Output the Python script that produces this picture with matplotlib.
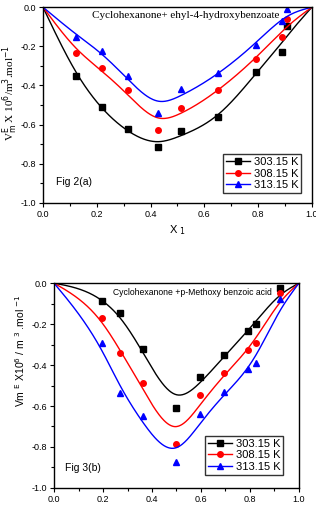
import matplotlib
matplotlib.use('Agg')
import matplotlib.pyplot as plt
import numpy as np
from matplotlib.ticker import MultipleLocator, FormatStrFormatter

temps = ['303.15 K', '308.15 K', '313.15 K']
colors = ['black', 'red', 'blue']
markers = ['s', 'o', '^']

# Fig 2(a): Cyclohexanone + ethyl-4-hydroxybenzoate
x_a = [0.124, 0.219, 0.318, 0.429, 0.512, 0.652, 0.791, 0.889, 0.908]
ve_a = [
    [-0.350, -0.512, -0.625, -0.713, -0.633, -0.563, -0.329, -0.229, -0.096],
    [-0.234, -0.312, -0.423, -0.626, -0.514, -0.421, -0.263, -0.150, -0.061],
    [-0.150, -0.224, -0.353, -0.539, -0.420, -0.338, -0.195, -0.072, -0.009],
]

# Fig 3(b): Cyclohexanone + p-Methoxy benzoic acid
x_b = [0.196, 0.269, 0.364, 0.497, 0.596, 0.692, 0.794, 0.824, 0.924]
ve_b = [
    [-0.088, -0.148, -0.322, -0.611, -0.459, -0.351, -0.234, -0.198, -0.026],
    [-0.171, -0.340, -0.486, -0.787, -0.546, -0.441, -0.327, -0.293, -0.046],
    [-0.294, -0.535, -0.650, -0.875, -0.641, -0.533, -0.421, -0.389, -0.078],
]


def smooth_spline(x, y, lam):
    # natural cubic smoothing spline (Reinsch), pure-component ends pinned at 0
    x = np.concatenate([[0.0], x, [1.0]])
    y = np.concatenate([[0.0], y, [0.0]])
    w = np.ones_like(x)
    w[0] = w[-1] = 1e4
    n = len(x)
    h = np.diff(x)
    Q = np.zeros((n, n - 2))
    R = np.zeros((n - 2, n - 2))
    for j in range(1, n - 1):
        Q[j - 1, j - 1] = 1 / h[j - 1]
        Q[j, j - 1] = -1 / h[j - 1] - 1 / h[j]
        Q[j + 1, j - 1] = 1 / h[j]
        R[j - 1, j - 1] = (h[j - 1] + h[j]) / 3
        if j < n - 2:
            R[j - 1, j] = R[j, j - 1] = h[j] / 6
    K = Q @ np.linalg.solve(R, Q.T)
    g = np.linalg.solve(np.diag(w) + lam * K, w * y)
    gam = np.concatenate([[0.0], np.linalg.solve(R, Q.T @ g), [0.0]])
    xs = np.linspace(0, 1, 400)
    i = np.clip(np.searchsorted(x, xs) - 1, 0, n - 2)
    a = xs - x[i]
    b = x[i + 1] - xs
    hi = h[i]
    ys = (a * g[i + 1] + b * g[i]) / hi - a * b / 6 * ((1 + a / hi) * gam[i + 1] + (1 + b / hi) * gam[i])
    return xs, ys


def style_axes(ax):
    ax.set_xlim(0, 1.0)
    ax.set_ylim(-1.0, 0.0)
    ax.xaxis.set_major_locator(MultipleLocator(0.2))
    ax.xaxis.set_minor_locator(MultipleLocator(0.1))
    ax.yaxis.set_major_locator(MultipleLocator(0.2))
    ax.yaxis.set_minor_locator(MultipleLocator(0.1))
    ax.tick_params(which='both', direction='out', top=False, right=False, labelsize=6.5, pad=2)
    ax.tick_params(which='major', length=3, width=0.8)
    ax.tick_params(which='minor', length=2, width=0.8)
    for sp in ax.spines.values():
        sp.set_linewidth(1.0)
    ax.xaxis.set_major_formatter(FormatStrFormatter('%.1f'))
    ax.yaxis.set_major_formatter(FormatStrFormatter('%.1f'))


plt.rcParams['font.family'] = ['Liberation Sans', 'DejaVu Sans']

fig = plt.figure(figsize=(3.16, 5.12), dpi=100)
ax1 = fig.add_axes([0.136, 0.604, 0.851, 0.382])
ax2 = fig.add_axes([0.171, 0.047, 0.775, 0.400])

panels = [(ax1, x_a, ve_a, 0.00015, (0.96, 0.05)), (ax2, x_b, ve_b, 0.00015, (0.935, 0.065))]
for ax, xv, series, lam, anchor in panels:
    for i in range(3):
        xs, ys = smooth_spline(xv, series[i], lam)
        ax.plot(xs, ys, color=colors[i], lw=1.0)
        ax.plot(xv, series[i], linestyle='none', marker=markers[i], color=colors[i], markersize=4)
        ax.plot([], [], color=colors[i], marker=markers[i], markersize=4, lw=1.0, label=temps[i])
    style_axes(ax)
    leg = ax.legend(loc='lower right', bbox_to_anchor=anchor, fontsize=8, frameon=True,
                    fancybox=False, edgecolor='black', handlelength=2.2, borderpad=0.25,
                    labelspacing=0.15, handletextpad=0.3, borderaxespad=0.0)
    leg.get_frame().set_linewidth(1.0)

ax1.text(0.53, 0.955, 'Cyclohexanone+ ehyl-4-hydroxybenzoate', transform=ax1.transAxes,
         ha='center', va='center', family='Liberation Serif', fontsize=8)
ax1.text(0.05, 0.09, 'Fig 2(a)', transform=ax1.transAxes, fontsize=7.5)
ax1.set_xlabel('X $_1$', fontsize=8, labelpad=3)
ax1.set_ylabel(r'V$^{\rm E}_{\rm m}$ X 10$^6$/m$^3$.mol$^{-1}$', family='Liberation Serif',
               fontsize=8)
ax1.yaxis.set_label_coords(-0.085, 0.56)

ax2.text(0.565, 0.955, 'Cyclohexanone +p-Methoxy benzoic acid', transform=ax2.transAxes,
         ha='center', va='center', fontsize=6.2)
ax2.text(0.045, 0.085, 'Fig 3(b)', transform=ax2.transAxes, fontsize=7.5)
ax2.set_xlabel('X$_1$', fontsize=8, labelpad=8)
ax2.set_ylabel(r'Vm $^{\rm E}$ X10$^6$ / m $^3$ .mol $^{-1}$', fontsize=7.5)
ax2.yaxis.set_label_coords(-0.11, 0.67)

fig.savefig('out.png', dpi=100)
